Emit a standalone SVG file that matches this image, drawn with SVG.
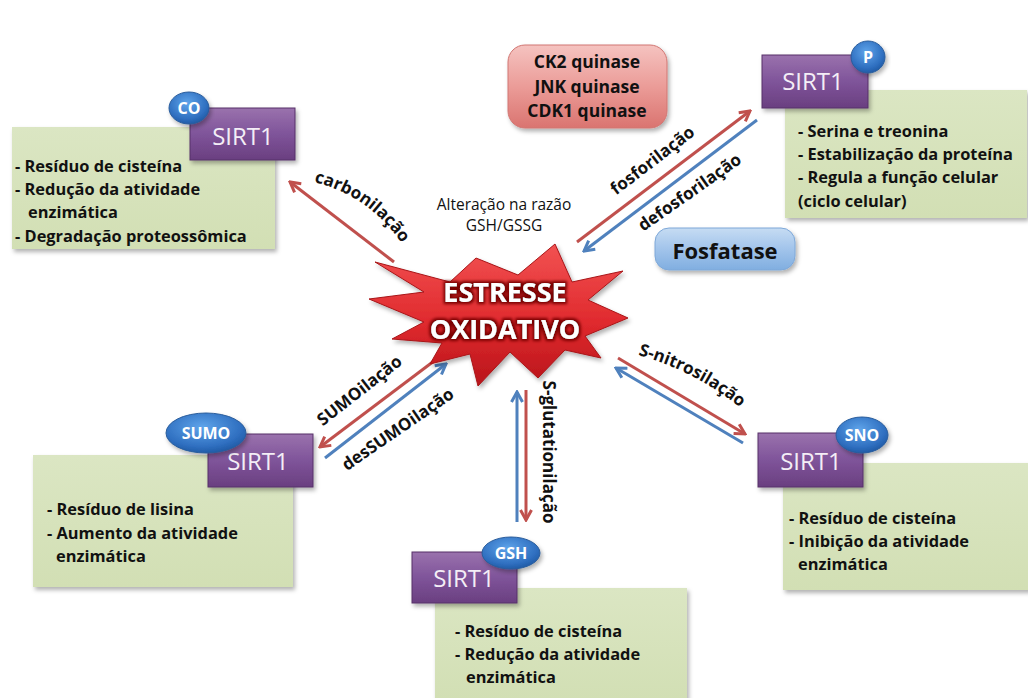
<svg xmlns="http://www.w3.org/2000/svg" width="1028" height="698" viewBox="0 0 1028 698">
  <defs>
    <style>
      text { font-family: "Open Sans", "Liberation Sans", sans-serif; }
      .info { fill: url(#gGreen); filter: url(#shadow); }
      .infoText { font-size: 16.4px; font-weight: bold; fill: #111; }
      .sirt { fill: url(#gPurple); stroke: #573069; stroke-width: 1; filter: url(#shadow); }
      .sirtText { font-size: 24px; fill: #f4eef6; text-anchor: middle; }
      .badge { fill: url(#gBlue); stroke: #2a5d9c; stroke-width: 1; filter: url(#shadow); }
      .badgeText { font-size: 16px; font-weight: bold; fill: #fff; text-anchor: middle; }
      .lbl { font-size: 17px; font-weight: bold; fill: #111; }
      .red { stroke: #c0504d; stroke-width: 3; fill: none; marker-end: url(#headRed); }
      .blue { stroke: #4f81bd; stroke-width: 3; fill: none; marker-end: url(#headBlue); }
    </style>
    <linearGradient id="gGreen" x1="0" y1="0" x2="0" y2="1">
      <stop offset="0" stop-color="#dbe6c3"/>
      <stop offset="1" stop-color="#d2dfb4"/>
    </linearGradient>
    <linearGradient id="gPurple" x1="0" y1="0" x2="0" y2="1">
      <stop offset="0" stop-color="#9a72ad"/>
      <stop offset="0.5" stop-color="#7f549a"/>
      <stop offset="1" stop-color="#6a3f80"/>
    </linearGradient>
    <radialGradient id="gBlue" cx="0.45" cy="0.35" r="0.7">
      <stop offset="0" stop-color="#5fa4ea"/>
      <stop offset="0.7" stop-color="#2f6fc0"/>
      <stop offset="1" stop-color="#1d569f"/>
    </radialGradient>
    <linearGradient id="gPink" x1="0" y1="0" x2="0" y2="1">
      <stop offset="0" stop-color="#f5c3c0"/>
      <stop offset="0.5" stop-color="#eb9c98"/>
      <stop offset="1" stop-color="#da7470"/>
    </linearGradient>
    <linearGradient id="gSky" x1="0" y1="0" x2="0" y2="1">
      <stop offset="0" stop-color="#c6dcf3"/>
      <stop offset="0.5" stop-color="#a2c4eb"/>
      <stop offset="1" stop-color="#80aee0"/>
    </linearGradient>
    <linearGradient id="gStar" x1="0" y1="0" x2="0" y2="1">
      <stop offset="0" stop-color="#f25252"/>
      <stop offset="0.55" stop-color="#e02a2e"/>
      <stop offset="1" stop-color="#b8141a"/>
    </linearGradient>
    <filter id="shadow" x="-10%" y="-10%" width="125%" height="130%">
      <feDropShadow dx="2" dy="3" stdDeviation="2" flood-color="#000" flood-opacity="0.3"/>
    </filter>
    <filter id="glow" x="-20%" y="-30%" width="140%" height="160%">
      <feMorphology in="SourceAlpha" operator="dilate" radius="1.6" result="d"/>
      <feGaussianBlur in="d" stdDeviation="1.4" result="b"/>
      <feFlood flood-color="#7a0000"/>
      <feComposite in2="b" operator="in" result="g"/>
      <feMerge><feMergeNode in="g"/><feMergeNode in="SourceGraphic"/></feMerge>
    </filter>
    <marker id="headRed" viewBox="0 0 14 14" refX="12" refY="7" markerWidth="14" markerHeight="14" markerUnits="userSpaceOnUse" orient="auto">
      <path d="M2,1.5 L12,7 L2,12.5" fill="none" stroke="#c0504d" stroke-width="3"/>
    </marker>
    <marker id="headBlue" viewBox="0 0 14 14" refX="12" refY="7" markerWidth="14" markerHeight="14" markerUnits="userSpaceOnUse" orient="auto">
      <path d="M2,1.5 L12,7 L2,12.5" fill="none" stroke="#4f81bd" stroke-width="3"/>
    </marker>
    <path id="pCarb" d="M314,182 Q374,197 408,253"/>
    <path id="pNitro" d="M638,355 Q700,372 750,416"/>
  </defs>

  <rect width="1028" height="698" fill="#fff"/>

  <!-- connectors -->
  <g id="connectors">
    <line class="red" x1="394" y1="262" x2="290" y2="182"/>
    <line class="red" x1="577" y1="242" x2="750" y2="111"/>
    <line class="blue" x1="757" y1="120" x2="584" y2="251"/>
    <line class="red" x1="438" y1="358" x2="320" y2="447"/>
    <line class="blue" x1="325" y1="458" x2="446" y2="364"/>
    <line class="blue" x1="517" y1="522" x2="517" y2="392"/>
    <line class="red" x1="526" y1="390" x2="526" y2="520"/>
    <line class="red" x1="618" y1="358" x2="745" y2="434"/>
    <line class="blue" x1="743" y1="443" x2="616" y2="368"/>
  </g>

  <!-- connector labels -->
  <g id="labels">
    <text class="lbl"><textPath href="#pCarb">carbonilação</textPath></text>
    <text class="lbl" text-anchor="middle" transform="translate(656,165) rotate(-37.5)">fosforilação</text>
    <text class="lbl" text-anchor="middle" transform="translate(693,197) rotate(-35)">defosforilação</text>
    <text class="lbl" text-anchor="middle" transform="translate(363,395) rotate(-38)">SUMOilação</text>
    <text class="lbl" text-anchor="middle" transform="translate(401,434) rotate(-34.5)">desSUMOilação</text>
    <text class="lbl" text-anchor="middle" transform="translate(543,452) rotate(90)">S-glutationilação</text>
    <text class="lbl"><textPath href="#pNitro">S-nitrosilação</textPath></text>
    <text x="504" y="210" font-size="15.5" fill="#111" text-anchor="middle">Alteração na razão</text>
    <text x="504" y="231" font-size="15.5" fill="#111" text-anchor="middle">GSH/GSSG</text>
  </g>

  <!-- central star -->
  <g id="estresse">
    <polygon points="555,244 572,282 623,271 588,300 628,318 585,336 601,358 565,350 538,378 510,352 478,386 470,354 430,364 442,343 392,339 424,322 369,299 424,292 375,262 450,282 476,258 518,275"
             fill="url(#gStar)" stroke="#a81418" stroke-width="1" filter="url(#shadow)"/>
    <g filter="url(#glow)" font-size="27" font-weight="bold" fill="#fff" text-anchor="middle">
      <text x="505" y="302">ESTRESSE</text>
      <text x="505" y="339">OXIDATIVO</text>
    </g>
  </g>

  <!-- kinases -->
  <g id="quinases">
    <rect x="508" y="45" width="159" height="83" rx="17" fill="url(#gPink)" stroke="#d17672" stroke-width="1" filter="url(#shadow)"/>
    <g font-size="17.5" font-weight="bold" fill="#111" text-anchor="middle">
      <text x="587" y="68">CK2 quinase</text>
      <text x="587" y="93">JNK quinase</text>
      <text x="587" y="117">CDK1 quinase</text>
    </g>
  </g>

  <!-- phosphatase -->
  <g id="fosfatase">
    <rect x="655" y="228" width="140" height="42" rx="14" fill="url(#gSky)" stroke="#7ea8d8" stroke-width="1" filter="url(#shadow)"/>
    <text x="725" y="259" font-size="22" font-weight="bold" fill="#111" text-anchor="middle">Fosfatase</text>
  </g>

  <!-- carbonylated SIRT1 -->
  <g id="sirt1-co">
    <rect class="info" x="12" y="127" width="263" height="122"/>
    <text class="infoText" x="15" y="172">- Resíduo de cisteína</text>
    <text class="infoText" x="15" y="195">- Redução da atividade</text>
    <text class="infoText" x="28" y="218">enzimática</text>
    <text class="infoText" x="15" y="242">- Degradação proteossômica</text>
    <rect class="sirt" x="190" y="108" width="105" height="52"/>
    <text class="sirtText" x="243" y="145">SIRT1</text>
    <ellipse class="badge" cx="189" cy="108" rx="20" ry="16"/>
    <text class="badgeText" x="189" y="114" font-size="17">CO</text>
  </g>

  <!-- phosphorylated SIRT1 -->
  <g id="sirt1-p">
    <rect class="info" x="785" y="90" width="242" height="128"/>
    <text class="infoText" x="798" y="137">- Serina e treonina</text>
    <text class="infoText" x="798" y="160">- Estabilização da proteína</text>
    <text class="infoText" x="798" y="183">- Regula a função celular</text>
    <text class="infoText" x="798" y="207">(ciclo celular)</text>
    <rect class="sirt" x="762" y="55" width="106" height="53"/>
    <text class="sirtText" x="813" y="90">SIRT1</text>
    <ellipse class="badge" cx="868" cy="57" rx="17" ry="16"/>
    <text class="badgeText" x="868" y="63">P</text>
  </g>

  <!-- SUMOylated SIRT1 -->
  <g id="sirt1-sumo">
    <rect class="info" x="33" y="455" width="260" height="132"/>
    <text class="infoText" x="47" y="515">- Resíduo de lisina</text>
    <text class="infoText" x="47" y="539">- Aumento da atividade</text>
    <text class="infoText" x="56" y="562">enzimática</text>
    <rect class="sirt" x="208" y="434" width="105" height="53"/>
    <text class="sirtText" x="258" y="470">SIRT1</text>
    <ellipse class="badge" cx="206" cy="433" rx="40" ry="20"/>
    <text class="badgeText" x="206" y="439" font-size="17">SUMO</text>
  </g>

  <!-- glutathionylated SIRT1 -->
  <g id="sirt1-gsh">
    <rect class="info" x="435" y="588" width="252" height="112"/>
    <text class="infoText" x="455" y="637">- Resíduo de cisteína</text>
    <text class="infoText" x="455" y="660">- Redução da atividade</text>
    <text class="infoText" x="466" y="683">enzimática</text>
    <rect class="sirt" x="412" y="552" width="105" height="51"/>
    <text class="sirtText" x="464" y="587">SIRT1</text>
    <ellipse class="badge" cx="511" cy="553" rx="29" ry="16"/>
    <text class="badgeText" x="511" y="559">GSH</text>
  </g>

  <!-- S-nitrosylated SIRT1 -->
  <g id="sirt1-sno">
    <rect class="info" x="783" y="463" width="247" height="127"/>
    <text class="infoText" x="789" y="524">- Resíduo de cisteína</text>
    <text class="infoText" x="789" y="547">- Inibição da atividade</text>
    <text class="infoText" x="798" y="570">enzimática</text>
    <rect class="sirt" x="758" y="433" width="105" height="54"/>
    <text class="sirtText" x="811" y="470">SIRT1</text>
    <ellipse class="badge" cx="862" cy="435" rx="26" ry="18"/>
    <text class="badgeText" x="862" y="441">SNO</text>
  </g>
</svg>
